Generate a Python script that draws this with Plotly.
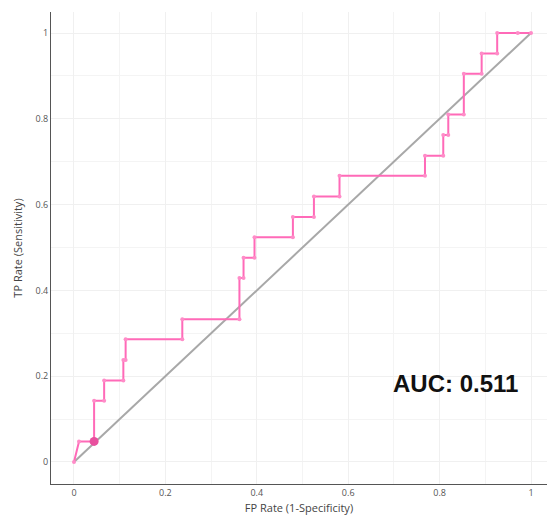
import plotly.graph_objects as go

fpr = [0, 0.011, 0.044, 0.044, 0.066, 0.066, 0.108, 0.108, 0.113, 0.113,
       0.237, 0.237, 0.362, 0.362, 0.371, 0.371, 0.395, 0.395, 0.479, 0.479,
       0.525, 0.525, 0.581, 0.581, 0.768, 0.768, 0.808, 0.808, 0.819, 0.819,
       0.853, 0.853, 0.892, 0.892, 0.926, 0.926, 0.971, 1.0]
tpr = [0, 0.048, 0.048, 0.143, 0.143, 0.190, 0.190, 0.238, 0.238, 0.286,
       0.286, 0.333, 0.333, 0.429, 0.429, 0.476, 0.476, 0.524, 0.524, 0.571,
       0.571, 0.619, 0.619, 0.667, 0.667, 0.714, 0.714, 0.762, 0.762, 0.810,
       0.810, 0.905, 0.905, 0.952, 0.952, 1.0, 1.0, 1.0]
diag_x = [0, 1]
diag_y = [0, 1]
best_x = [0.044]
best_y = [0.048]
auc_text = "AUC: 0.511"

fig = go.Figure()
fig.add_trace(go.Scatter(x=diag_x, y=diag_y, mode="lines",
                         line=dict(color="#a8a8a8", width=2),
                         hoverinfo="skip", showlegend=False))
fig.add_trace(go.Scatter(x=fpr, y=tpr, mode="lines+markers",
                         line=dict(color="#ff6ab8", width=2),
                         marker=dict(color="#ff8cc8", size=4),
                         showlegend=False))
fig.add_trace(go.Scatter(x=best_x, y=best_y, mode="markers",
                         marker=dict(color="#e8509e", size=9),
                         showlegend=False))

fig.add_annotation(x=0.834, y=0.184, xref="x", yref="y", text="<b>" + auc_text + "</b>",
                   showarrow=False,
                   font=dict(family="Liberation Sans, Arial", size=24, color="#111111"))

axis_common = dict(showgrid=True, gridcolor="#f0f0f0", gridwidth=1,
                   zeroline=False, showline=True, linecolor="#555555", linewidth=1,
                   tickfont=dict(family="Open Sans", size=9, color="#555555"),
                   ticks="", minor=dict(showgrid=True, gridcolor="#f4f4f4", dtick=0.1))

fig.update_layout(
    width=547, height=515,
    margin=dict(l=51, r=0, t=12, b=31),
    plot_bgcolor="white", paper_bgcolor="white",
    xaxis=dict(range=[-0.0503, 1.035], dtick=0.2, tick0=0,
               title=dict(text="FP Rate (1-Specificity)", standoff=6,
                          font=dict(family="Open Sans", size=11, color="#444444")),
               **axis_common),
    yaxis=dict(range=[-0.0513, 1.049], dtick=0.2, tick0=0,
               title=dict(text="TP Rate (Sensitivity)", standoff=10,
                          font=dict(family="Open Sans", size=11, color="#444444")),
               **axis_common),
)

fig.write_html("out.html")
